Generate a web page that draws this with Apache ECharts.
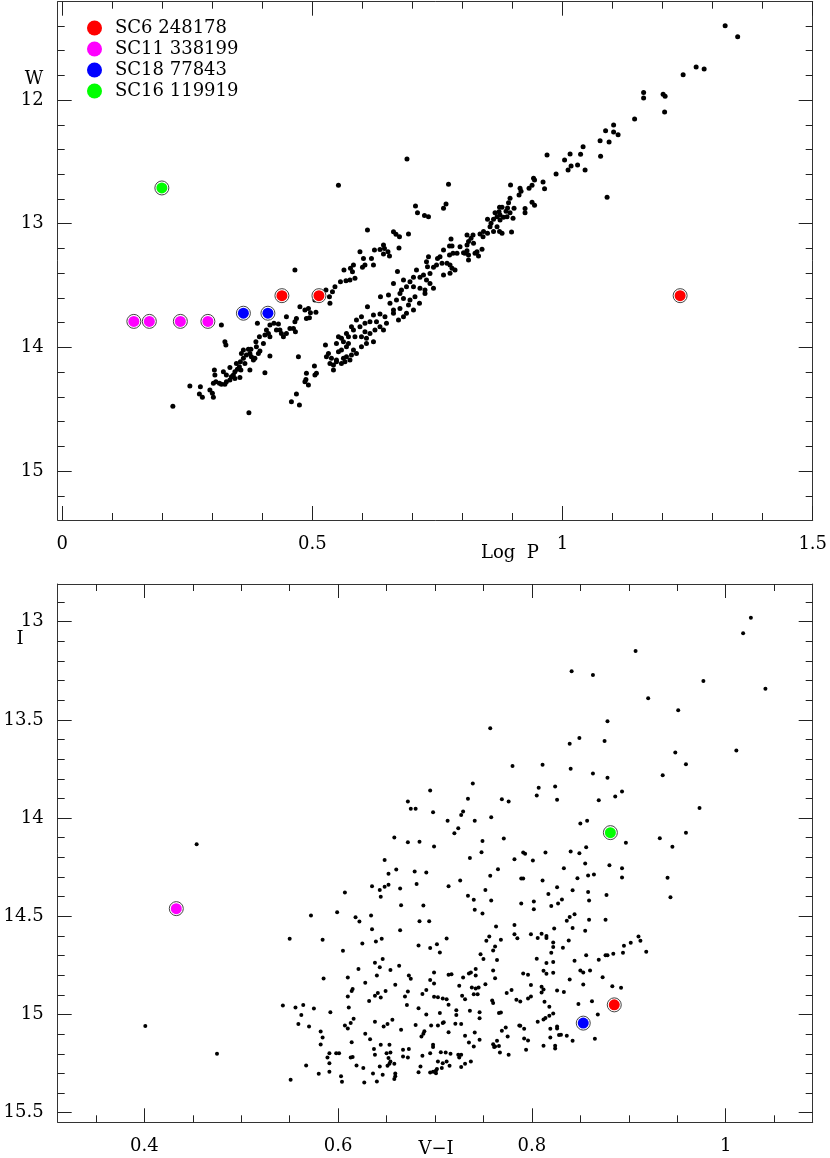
<!DOCTYPE html>
<html><head><meta charset="utf-8">
<script src="https://cdn.jsdelivr.net/npm/echarts@6/dist/echarts.min.js"></script>
<style>html,body{margin:0;padding:0;background:#fff}#chart{width:830px;height:1158px}</style>
</head><body><div id="chart"></div>
<script>
// ---------- Top panel: W vs Log P ----------
const plGroupA = [
[0.706,12.857],[0.710,12.911],[0.724,12.933],[0.732,12.944],
[0.610,13.051],[0.662,13.065],[0.667,13.086],[0.674,13.105],[0.692,13.084],
[0.642,13.173],[0.673,13.197],[0.624,13.213],[0.635,13.208],[0.644,13.200],[0.595,13.227],[0.651,13.227],[0.642,13.246],[0.654,13.262],[0.618,13.281],[0.602,13.281],[0.732,13.267],[0.750,13.281],
[0.622,13.334],[0.605,13.334],[0.600,13.353],[0.582,13.334],[0.576,13.361],[0.563,13.375],[0.580,13.388],[0.465,13.375],[0.670,13.386],[0.708,13.375],[0.728,13.308],[0.730,13.348],[0.735,13.402],[0.742,13.353],[0.748,13.334],[0.722,13.415],[0.715,13.434],[0.702,13.434],
[0.585,13.442],[0.575,13.456],[0.567,13.461],[0.556,13.469],[0.545,13.510],[0.527,13.537],[0.682,13.456],[0.695,13.469],[0.702,13.510],[0.728,13.456],[0.735,13.483],[0.742,13.523],[0.725,13.537],[0.715,13.523],[0.688,13.510],[0.678,13.537],[0.662,13.483],
[0.540,13.550],[0.534,13.591],[0.535,13.644],[0.505,13.617],[0.475,13.671],[0.636,13.591],[0.675,13.564],[0.682,13.604],[0.668,13.617],[0.655,13.644],[0.695,13.617],[0.705,13.591],[0.692,13.658],[0.675,13.685],[0.662,13.698],[0.702,13.698],[0.714,13.644],[0.725,13.564],[0.652,13.577],
[0.485,13.698],[0.496,13.720],[0.507,13.717],[0.492,13.685],[0.488,13.766],[0.494,13.760],[0.610,13.671],[0.598,13.752],[0.622,13.739],[0.635,13.731],[0.645,13.752],[0.628,13.793],[0.615,13.793],[0.605,13.806],[0.648,13.806],[0.662,13.725],[0.672,13.779],[0.688,13.725],[0.682,13.752],[0.448,13.752],[0.465,13.793],[0.468,13.766],[0.588,13.779],[0.578,13.833]
];
const plGroupB = [
[0.423,13.806],[0.432,13.812],[0.415,13.820],[0.428,13.860],[0.435,13.860],[0.455,13.847],[0.462,13.847],[0.466,13.874],[0.448,13.887],[0.438,13.887],[0.442,13.914],[0.408,13.860],[0.405,13.900],[0.412,13.887],[0.415,13.914],[0.394,13.914],[0.390,13.806],[0.318,13.820],[0.582,13.860],[0.595,13.833],[0.568,13.887],[0.585,13.914],[0.605,13.874],[0.615,13.887],[0.625,13.860],[0.635,13.833],[0.642,13.860],[0.552,13.914],[0.558,13.927],[0.572,13.914],[0.598,13.914],[0.608,13.927],
[0.325,13.954],[0.327,13.981],[0.387,13.954],[0.402,13.968],[0.388,13.995],[0.362,14.022],[0.372,14.016],[0.377,14.016],[0.395,14.030],[0.392,14.049],[0.358,14.049],[0.375,14.049],[0.526,13.981],[0.548,13.968],[0.562,13.954],[0.568,13.995],[0.582,14.022],[0.598,13.995],[0.608,13.968],[0.622,13.954],[0.572,13.968],[0.588,14.049],[0.578,14.062],[0.568,14.076],[0.558,14.022],[0.552,14.035],[0.532,14.049],[0.528,14.076],[0.538,14.089],[0.548,14.103],[0.562,14.089],
[0.368,14.062],[0.378,14.076],[0.385,14.089],[0.382,14.103],[0.362,14.089],[0.356,14.116],[0.348,14.130],[0.354,14.157],[0.350,14.178],[0.345,14.197],[0.335,14.162],[0.375,14.184],[0.365,14.130],[0.357,14.184],[0.342,14.224],[0.338,14.237],[0.328,14.224],[0.322,14.197],[0.304,14.184],[0.415,14.070],[0.405,14.205],[0.472,14.076],[0.535,14.130],[0.542,14.143],[0.542,14.184],[0.548,14.116],[0.558,14.130],[0.565,14.116],[0.575,14.103],[0.488,14.210],[0.505,14.224],[0.508,14.210],[0.504,14.151],
[0.305,14.224],[0.302,14.291],[0.307,14.278],[0.314,14.291],[0.318,14.299],[0.325,14.299],[0.328,14.278],[0.335,14.264],[0.345,14.251],[0.355,14.243],[0.295,14.345],[0.300,14.372],[0.302,14.404],[0.276,14.318],[0.274,14.378],[0.280,14.404],[0.255,14.313],[0.485,14.278],[0.492,14.305],[0.487,14.259],[0.468,14.378],
[0.458,14.440],[0.474,14.467],[0.373,14.529],[0.221,14.476],[0.552,12.690]
];
const plGroupC = [
[0.762,12.876],[0.767,12.841],[0.772,12.682],[0.689,12.477],
[0.969,12.444],[0.987,12.598],[1.004,12.485],[1.015,12.436],[1.017,12.533],[1.011,12.566],[1.030,12.525],[1.036,12.439],[1.041,12.377],[1.045,12.566],[1.075,12.329],[1.076,12.455],[1.086,12.248],[1.093,12.339],[1.102,12.202],[1.102,12.258],[1.111,12.280],[1.089,12.787],[1.144,12.153],[1.162,11.940],[1.162,11.984],[1.201,11.954],[1.205,11.970],[1.204,12.097],
[1.325,11.399],[1.350,11.488],[1.267,11.733],[1.283,11.749],[1.241,11.795],
[0.961,12.663],[0.964,12.717],[0.942,12.633],[0.944,12.647],[0.939,12.690],[0.933,12.714],[0.915,12.714],[0.913,12.768],[0.917,12.738],[0.896,12.687],[0.939,12.827],[0.944,12.851],[0.925,12.878],[0.925,12.911],[0.895,12.795],[0.892,12.830],[0.903,12.876],[0.901,12.957],[0.874,12.868],[0.879,12.868],[0.890,12.873],[0.887,12.900],[0.873,12.903],[0.875,12.930],[0.869,12.943],[0.875,12.970],[0.865,12.911],[0.862,12.965],[0.882,12.948],[0.889,12.943],[0.895,12.911],
[0.850,12.965],[0.857,12.997],[0.855,13.024],[0.869,13.024],[0.874,13.064],[0.879,13.078],[0.898,13.067],[0.835,13.083],[0.842,13.064],[0.850,13.078],[0.862,13.064],[0.841,13.105],[0.821,13.091],[0.809,13.091],[0.817,13.118],[0.822,13.159],[0.812,13.145],[0.809,13.172],[0.839,13.207],[0.829,13.226],[0.832,13.261],[0.825,13.240],[0.812,13.253],[0.809,13.218],[0.805,13.240],[0.802,13.234],[0.812,13.293],[0.795,13.186],[0.789,13.240],[0.777,13.124],[0.774,13.180],[0.779,13.180],[0.781,13.240],[0.774,13.253],[0.762,13.213],[0.755,13.267],[0.769,13.320],[0.775,13.334],[0.779,13.361],[0.785,13.374],[0.775,13.401],[0.759,13.320],[0.762,13.415]
];
const plSC6 = [[0.439,13.582],[0.513,13.582],[1.235,13.582]];
const plSC11 = [[0.143,13.79],[0.174,13.79],[0.236,13.79],[0.291,13.79]];
const plSC18 = [[0.362,13.724],[0.411,13.724]];
const plSC16 = [[0.199,12.711]];

// ---------- Bottom panel: I vs V-I ----------
const cmdGroupA = [
[0.780,13.735],[0.739,13.824],[0.695,13.860],[0.672,13.916],[0.675,13.952],[0.680,13.952],[0.698,13.970],[0.734,13.902],[0.769,13.904],[0.776,13.916],[0.727,13.984],[0.729,13.967],[0.713,14.013],[0.741,14.014],[0.758,13.996],[0.724,14.052],[0.720,14.077],[0.658,14.099],[0.672,14.123],[0.684,14.120],[0.699,14.145],[0.749,14.116],[0.771,14.104],[0.748,14.174],[0.736,14.203],[0.782,14.210],[0.648,14.213],[0.660,14.262],[0.652,14.284],[0.679,14.272],[0.691,14.277],[0.765,14.260],[0.757,14.294],[0.635,14.347],[0.643,14.366],[0.644,14.400],[0.648,14.349],[0.652,14.340],[0.664,14.359],[0.681,14.335],[0.714,14.347],[0.726,14.318],[0.752,14.366],[0.607,14.379],[0.665,14.444],[0.688,14.445],[0.734,14.396],[0.740,14.416],[0.741,14.467],[0.758,14.420],[0.749,14.486],[0.572,14.496],[0.599,14.479],[0.618,14.505],[0.622,14.527],[0.634,14.496],[0.635,14.566],[0.664,14.571],[0.684,14.525],[0.694,14.525],[0.550,14.615],[0.584,14.620],[0.605,14.676],[0.625,14.639],[0.639,14.628],[0.645,14.615],[0.683,14.649],[0.695,14.662],[0.702,14.642],[0.705,14.684],[0.712,14.613],[0.753,14.625],[0.756,14.603],[0.760,14.674],[0.762,14.654],[0.768,14.620],[0.763,14.552],[0.747,14.693],[0.750,14.717],[0.764,14.722],[0.782,14.544],[0.785,14.612],[0.782,14.591]
];
const cmdGroupB = [
[0.585,14.817],[0.610,14.812],[0.621,14.768],[0.638,14.737],[0.643,14.759],[0.646,14.718],[0.640,14.802],[0.654,14.773],[0.663,14.752],[0.673,14.802],[0.675,14.818],[0.699,14.786],[0.695,14.824],[0.699,14.842],[0.714,14.798],[0.717,14.795],[0.729,14.812],[0.735,14.791],[0.737,14.786],[0.742,14.769],[0.742,14.802],[0.725,14.854],[0.728,14.905],[0.738,14.863],[0.742,14.868],[0.745,14.863],[0.752,14.846],[0.760,14.776],[0.762,14.815],[0.615,14.870],[0.614,14.880],[0.610,14.908],[0.628,14.839],[0.632,14.931],[0.638,14.905],[0.641,14.891],[0.644,14.913],[0.649,14.880],[0.659,14.849],[0.669,14.908],[0.671,14.952],[0.672,14.883],[0.687,14.896],[0.691,14.875],[0.699,14.910],[0.703,14.912],[0.708,14.919],[0.712,14.922],[0.683,14.968],[0.691,15.000],[0.705,14.993],[0.714,14.951],[0.722,14.978],[0.722,15.002],[0.731,14.922],[0.736,14.981],[0.740,14.897],[0.744,14.897],[0.746,14.988],[0.746,15.019],[0.759,14.929],[0.760,14.942],[0.766,14.993],[0.768,14.990],[0.774,14.891],[0.779,14.875],[0.784,14.925],
[0.543,14.954],[0.556,14.964],[0.564,14.952],[0.575,14.969],[0.562,15.002],[0.559,15.049],[0.570,15.061],[0.592,14.988],[0.611,14.964],[0.616,15.022],[0.613,15.044],[0.607,15.056],[0.610,15.071],[0.582,15.087],[0.584,15.117],[0.582,15.153],[0.638,15.037],[0.647,15.061],[0.651,15.048],[0.656,15.027],[0.665,15.078],[0.680,15.053],[0.688,15.098],[0.696,15.056],[0.703,15.056],[0.708,15.044],[0.709,15.039],[0.689,15.086],[0.686,15.112],[0.714,15.090],[0.721,15.047],[0.727,15.048],[0.731,15.108],[0.735,15.143],[0.740,15.163],[0.741,15.092],[0.746,15.129],[0.760,15.151],[0.764,15.134],[0.762,15.163],[0.766,15.160],[0.769,15.083],[0.773,15.066],[0.775,15.112],[0.787,15.056]
];
const cmdGroupC = [
[0.614,15.141],[0.613,15.219],[0.628,15.098],[0.633,15.126],[0.637,15.176],[0.638,15.205],[0.644,15.154],[0.653,15.154],[0.650,15.197],[0.654,15.193],[0.652,15.222],[0.654,15.239],[0.651,15.261],[0.667,15.180],[0.667,15.214],[0.672,15.219],[0.673,15.176],[0.687,15.210],[0.695,15.197],[0.698,15.166],[0.698,15.154],[0.706,15.192],[0.711,15.193],[0.716,15.200],[0.724,15.205],[0.727,15.205],[0.725,15.219],[0.703,15.239],[0.708,15.248],[0.712,15.239],[0.737,15.239],[0.731,15.251],[0.761,15.166],[0.767,15.193],[0.776,15.205],[0.591,15.197],[0.589,15.219],[0.598,15.197],[0.601,15.197],[0.591,15.248],[0.615,15.217],[0.619,15.260],[0.626,15.273],[0.643,15.265],[0.653,15.251],[0.658,15.251],[0.567,15.260],[0.580,15.302],[0.591,15.292],[0.603,15.314],[0.604,15.343],[0.551,15.332],[0.627,15.346],[0.636,15.300],[0.640,15.341],[0.646,15.307],[0.659,15.300],[0.659,15.315],[0.658,15.329],[0.683,15.294],[0.685,15.265],[0.695,15.295],[0.698,15.292],[0.701,15.285],[0.701,15.299],[0.702,15.278],[0.707,15.273],[0.715,15.261],[0.727,15.268],
[0.401,15.059],[0.475,15.200],[0.454,14.133],[0.757,13.543],[1.026,12.980],[1.018,13.059]
];
const cmdGroupD = [
[0.907,13.149],[0.841,13.252],[0.863,13.271],[0.977,13.302],[1.041,13.341],[0.920,13.390],[0.951,13.451],[0.878,13.507],[0.849,13.592],[0.839,13.622],[0.875,13.607],[0.948,13.666],[1.011,13.656],[0.959,13.726],[0.811,13.729],[0.840,13.749],[0.863,13.773],[0.878,13.794],[0.935,13.782],[0.807,13.846],[0.824,13.839],[0.805,13.885],[0.826,13.906],[0.869,13.909],[0.886,13.890],[0.893,13.865],[0.973,13.948],[0.850,14.028],[0.857,14.014],[0.897,14.126],[0.932,14.102],[0.945,14.146],[0.959,14.075],
[0.791,14.175],[0.793,14.182],[0.814,14.175],[0.801,14.216],[0.840,14.170],[0.849,14.179],[0.856,14.148],[0.833,14.255],[0.855,14.231],[0.880,14.240],[0.893,14.255],[0.893,14.302],[0.789,14.308],[0.791,14.308],[0.811,14.318],[0.847,14.306],[0.858,14.292],[0.864,14.287],[0.940,14.304],[0.943,14.403],[0.817,14.386],[0.826,14.352],[0.842,14.367],[0.858,14.376],[0.877,14.392],[0.859,14.420],[0.789,14.435],[0.802,14.425],[0.802,14.464],[0.820,14.447],[0.827,14.435],[0.831,14.414],
[0.836,14.523],[0.839,14.504],[0.844,14.489],[0.859,14.518],[0.876,14.518],[0.842,14.559],[0.855,14.574],[0.823,14.562],[0.799,14.591],[0.806,14.611],[0.810,14.589],[0.815,14.601],[0.815,14.611],[0.822,14.633],[0.822,14.657],[0.832,14.660],[0.838,14.623],[0.820,14.686],[0.805,14.716],[0.815,14.738],[0.822,14.733],[0.844,14.727],[0.856,14.698],[0.869,14.721],[0.876,14.699],[0.878,14.698],[0.884,14.691],[0.894,14.686],[0.895,14.650],[0.902,14.635],[0.910,14.603],[0.912,14.625],[0.918,14.681],
[0.791,14.791],[0.796,14.798],[0.812,14.777],[0.815,14.793],[0.822,14.788],[0.850,14.776],[0.853,14.786],[0.860,14.776],[0.839,14.822],[0.873,14.811],[0.799,14.850],[0.810,14.859],[0.812,14.873],[0.810,14.888],[0.826,14.878],[0.833,14.885],[0.853,14.847],[0.883,14.856],[0.892,14.864],[0.796,14.918],[0.799,14.908],[0.788,14.934],[0.813,14.935],[0.818,14.961],[0.848,14.947],[0.862,14.932],[0.868,15.000],
[0.806,15.037],[0.812,15.025],[0.814,15.018],[0.818,15.006],[0.822,14.995],[0.792,15.073],[0.788,15.057],[0.819,15.073],[0.826,15.061],[0.826,15.071],[0.828,15.105],[0.830,15.103],[0.836,15.108],[0.842,15.134],[0.865,15.124],[0.792,15.122],[0.796,15.132],[0.794,15.180],[0.819,15.117],[0.812,15.159],[0.824,15.159],[0.824,15.173]
];
const cmdSC6 = [[0.885,14.951]];
const cmdSC11 = [[0.433,14.461]];
const cmdSC18 = [[0.853,15.044]];
const cmdSC16 = [[0.881,14.074]];

// ---------- Tick values ----------
const topXMajor = [0, 0.5, 1, 1.5];
const topXMinor = [0.1,0.2,0.3,0.4,0.6,0.7,0.8,0.9,1.1,1.2,1.3,1.4];
const topYMajor = [12, 13, 14, 15];
const topYMinor = [11.4,11.6,11.8,12.2,12.4,12.6,12.8,13.2,13.4,13.6,13.8,14.2,14.4,14.6,14.8,15.2];
const botXMajor = [0.4, 0.6, 0.8, 1];
const botXMinor = [0.35,0.45,0.5,0.55,0.65,0.7,0.75,0.85,0.9,0.95,1.05];
const botYMajor = [13, 13.5, 14, 14.5, 15, 15.5];
const botYMinor = [12.9,13.1,13.2,13.3,13.4,13.6,13.7,13.8,13.9,14.1,14.2,14.3,14.4,14.6,14.7,14.8,14.9,15.1,15.2,15.3,15.4];

const starNames = ['SC6 248178','SC11 338199','SC18 77843','SC16 119919'];
const starColors = ['#ff0000','#ff00ff','#0000ff','#00ff00'];

const FONT = 'DejaVu Serif';

function makeAxes(gridIndex, min, max, major, minor, inverse, sides, labelMargin) {
  const axes = [];
  sides.forEach((pos, si) => {
    [major, minor].forEach((ticks, ti) => {
      axes.push({
        type: 'value', gridIndex: gridIndex, position: pos, min: min, max: max, inverse: inverse,
        axisLine: { show: ti === 0, onZero: false, lineStyle: { color: '#333', width: 1 } },
        axisTick: { show: true, inside: true, length: ti === 0 ? 14 : 7, customValues: ticks,
                    lineStyle: { color: '#222', width: 1 } },
        axisLabel: (si === 0 && ti === 0)
          ? { show: true, customValues: major, inside: false, margin: labelMargin, color: '#000',
              fontFamily: FONT, fontSize: 18 }
          : { show: false },
        splitLine: { show: false }
      });
    });
  });
  return axes;
}

const xAxes = [].concat(
  makeAxes(0, -0.0092, 1.5, topXMajor, topXMinor, false, ['bottom','top'], 15),
  makeAxes(1, 0.3106, 1.0898, botXMajor, botXMinor, false, ['bottom','top'], 15)
);
const yAxes = [].concat(
  makeAxes(0, 11.205, 15.396, topYMajor, topYMinor, true, ['left','right'], 14),
  makeAxes(1, 12.808, 15.549, botYMajor, botYMinor, true, ['left','right'], 14)
);

function dots(data, axisIdx, size) {
  return { type: 'scatter', name: '_dots', xAxisIndex: axisIdx, yAxisIndex: axisIdx, data: data,
           symbol: 'circle', symbolSize: size, itemStyle: { color: '#000', opacity: 1 }, silent: true };
}
function star(data, axisIdx, k) {
  return [
    { type: 'scatter', name: '_ring', xAxisIndex: axisIdx, yAxisIndex: axisIdx, data: data,
      symbol: 'circle', symbolSize: 14, itemStyle: { color: '#fff', borderColor: '#444', borderWidth: 1, opacity: 1 }, silent: true, z: 3 },
    { type: 'scatter', name: starNames[k], xAxisIndex: axisIdx, yAxisIndex: axisIdx, data: data,
      symbol: 'circle', symbolSize: 11, itemStyle: { color: starColors[k], opacity: 1 }, silent: true, z: 4 }
  ];
}

const series = [].concat(
  dots(plGroupA, 0, 5), dots(plGroupB, 0, 5), dots(plGroupC, 0, 5),
  dots(cmdGroupA, 4, 4), dots(cmdGroupB, 4, 4), dots(cmdGroupC, 4, 4), dots(cmdGroupD, 4, 4),
  star(plSC6, 0, 0), star(plSC11, 0, 1), star(plSC18, 0, 2), star(plSC16, 0, 3),
  star(cmdSC6, 4, 0), star(cmdSC11, 4, 1), star(cmdSC18, 4, 2), star(cmdSC16, 4, 3)
);

function label(text, x, y) {
  return { type: 'text', x: x, y: y, style: { text: text, fontFamily: FONT, fontSize: 18, fill: '#000',
           align: 'center', verticalAlign: 'middle' } };
}

const chart = echarts.init(document.getElementById('chart'), null, { renderer: 'canvas' });
chart.setOption({
  animation: false,
  backgroundColor: '#fff',
  textStyle: { fontFamily: FONT },
  grid: [
    { left: 57.7, top: 1.7, width: 755, height: 518.3, containLabel: false, outerBoundsMode: 'none' },
    { left: 57.7, top: 584, width: 755, height: 538.3, containLabel: false, outerBoundsMode: 'none' }
  ],
  xAxis: xAxes,
  yAxis: yAxes,
  legend: {
    data: starNames.map((n, i) => ({ name: n, itemStyle: { color: starColors[i], opacity: 1 },
           textStyle: { fontFamily: FONT, fontSize: 18, color: '#000' } })),
    orient: 'vertical', left: 87, top: 19, padding: 0, itemWidth: 15, itemHeight: 15, itemGap: 3,
    icon: 'circle', selectedMode: false,
    textStyle: { fontFamily: FONT, fontSize: 18, color: '#000', padding: [0, 0, 0, 8] }
  },
  graphic: [
    label('W', 34, 79),
    label('Log  P', 510, 553),
    label('I', 20, 639),
    label('V\u2212I', 436, 1149)
  ],
  series: series
});
</script>
</body></html>
